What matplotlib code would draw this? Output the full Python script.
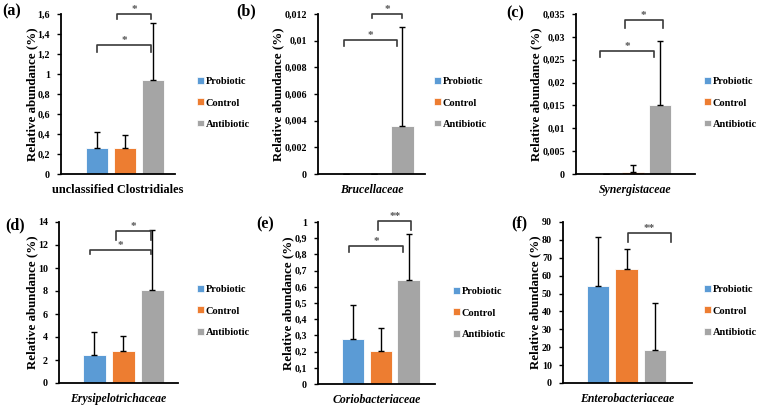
import matplotlib
matplotlib.use("Agg")
import matplotlib.pyplot as plt
from matplotlib.patches import Patch

plt.rcParams['font.family'] = ['Liberation Serif', 'DejaVu Serif']
plt.rcParams['font.weight'] = 'bold'

groups = ["Probiotic", "Control", "Antibiotic"]
colors = ["#5B9BD5", "#ED7D31", "#A5A5A5"]

panel_labels = ["(a)", "(b)", "(c)", "(d)", "(e)", "(f)"]
families = ["unclassified Clostridiales", "Brucellaceae", "Synergistaceae",
            "Erysipelotrichaceae", "Coriobacteriaceae", "Enterobacteriaceae"]
italic = [False, True, True, True, True, True]

means_a = [0.26, 0.265, 0.94]
errs_a = [0.16, 0.13, 0.57]
means_b = [0.0, 0.0, 0.0036]
errs_b = [0.0, 0.0, 0.0074]
means_c = [0.0, 0.0005, 0.015]
errs_c = [0.0, 0.0015, 0.014]
means_d = [2.4, 2.75, 8.1]
errs_d = [2.0, 1.35, 5.2]
means_e = [0.28, 0.205, 0.645]
errs_e = [0.21, 0.14, 0.28]
means_f = [54.0, 64.0, 18.5]
errs_f = [27.5, 11.0, 26.5]

yticks_a = [0, 0.2, 0.4, 0.6, 0.8, 1.0, 1.2, 1.4, 1.6]
ylabels_a = ["0", "0,2", "0,4", "0,6", "0,8", "1", "1,2", "1,4", "1,6"]
yticks_b = [0, 0.002, 0.004, 0.006, 0.008, 0.010, 0.012]
ylabels_b = ["0", "0,002", "0,004", "0,006", "0,008", "0,01", "0,012"]
yticks_c = [0, 0.005, 0.01, 0.015, 0.02, 0.025, 0.03, 0.035]
ylabels_c = ["0", "0,005", "0,01", "0,015", "0,02", "0,025", "0,03", "0,035"]
yticks_d = [0, 2, 4, 6, 8, 10, 12, 14]
ylabels_d = ["0", "2", "4", "6", "8", "10", "12", "14"]
yticks_e = [0, 0.1, 0.2, 0.3, 0.4, 0.5, 0.6, 0.7, 0.8, 0.9, 1.0]
ylabels_e = ["0", "0,1", "0,2", "0,3", "0,4", "0,5", "0,6", "0,7", "0,8", "0,9", "1"]
yticks_f = [0, 10, 20, 30, 40, 50, 60, 70, 80, 90]
ylabels_f = ["0", "10", "20", "30", "40", "50", "60", "70", "80", "90"]

# significance brackets: (x1, x2, y_top, y_leg, label)
sig_a = [(0.0, 1.95, 1.29, 1.22, "*"), (0.7, 1.95, 1.60, 1.555, "*")]
sig_b = [(-0.07, 1.8, 0.01005, 0.0096, "*"), (0.93, 2.0, 0.0120, 0.0117, "*")]
sig_c = [(-0.22, 1.8, 0.0268, 0.0257, "*"), (0.7, 2.1, 0.0337, 0.0320, "*")]
sig_d = [(-0.15, 1.95, 11.56, 11.2, "*"), (0.75, 1.95, 13.2, 12.4, "*")]
sig_e = [(-0.15, 1.8, 0.85, 0.815, "*"), (0.9, 2.1, 1.008, 0.95, "**")]
sig_f = [(1.05, 2.55, 83.8, 78.8, "**")]

panels = [
    (means_a, errs_a, yticks_a, ylabels_a, sig_a),
    (means_b, errs_b, yticks_b, ylabels_b, sig_b),
    (means_c, errs_c, yticks_c, ylabels_c, sig_c),
    (means_d, errs_d, yticks_d, ylabels_d, sig_d),
    (means_e, errs_e, yticks_e, ylabels_e, sig_e),
    (means_f, errs_f, yticks_f, ylabels_f, sig_f),
]

W, H = 760, 407
fig = plt.figure(figsize=(W / 100, H / 100), dpi=100)

# axes pixel boxes (left, right, top, bottom)
boxes = [(61, 175, 14, 174), (318, 425, 14, 174), (576, 695, 14, 174),
         (59, 178, 222, 383), (318, 435, 222, 384), (563, 692, 222, 383)]
xlims = [(-1.3, 2.8), (-1.0, 2.8), (-1.1, 3.3), (-1.23, 2.9), (-1.26, 2.95), (-1.23, 3.3)]
legend_pos = [(197, 103), (434, 103), (704, 103), (197, 311), (453, 313), (704, 311)]
label_pos = [(2, 11), (236, 11), (506, 13), (5, 225), (256, 224), (511, 223)]
ylabel_x = [32, 278, 536, 32, 288, 535]
xlabel_size = [8.8, 8.5, 8.5, 8.5, 8.5, 8.5]

for i, (means, errs, yt, yl, sigs) in enumerate(panels):
    l, r, t, b = boxes[i]
    ax = fig.add_axes([l / W, 1 - b / H, (r - l) / W, (b - t) / H])
    x = [0, 1, 2]
    ax.bar(x, means, width=0.8, color=colors, edgecolor="white", linewidth=0.6, zorder=2)
    ax.errorbar(x, means, yerr=[[0, 0, 0], errs], fmt="none", ecolor="black",
                elinewidth=1.0, capsize=2.5, capthick=1.0, zorder=3)
    ax.set_xlim(*xlims[i])
    ax.set_ylim(yt[0], yt[-1])
    ax.set_yticks(yt)
    ax.set_yticklabels(yl, fontsize=7.2, fontweight="bold")
    ax.set_xticks([])
    for s in ["top", "right"]:
        ax.spines[s].set_visible(False)
    for s in ["left", "bottom"]:
        ax.spines[s].set_linewidth(1.3)
    ax.tick_params(axis="y", direction="out", length=3, width=1.0, pad=5)
    ax.set_ylabel("Relative abundance (%)", fontsize=9.3, fontweight="bold")
    ax.yaxis.label.set_verticalalignment("center")
    ax.yaxis.set_label_coords((ylabel_x[i] - l) / (r - l), 0.5)
    ax.set_xlabel(families[i], fontsize=xlabel_size[i], fontweight="bold",
                  fontstyle="italic" if italic[i] else "normal", labelpad=7)
    for (x1, x2, yt_, yleg, lab) in sigs:
        ax.plot([x1, x1, x2, x2], [yleg, yt_, yt_, yleg], color="#3a3a3a",
                linewidth=1.2, clip_on=False, zorder=4)
        ax.text((x1 + x2) / 2, yt_, lab, ha="center", va="bottom", fontsize=8,
                color="#555555", clip_on=False)
    handles = [Patch(facecolor=c, edgecolor="white", linewidth=0.5) for c in colors]
    lx, ly = legend_pos[i]
    fig.legend(handles, groups, loc="center left", bbox_to_anchor=(lx / W, 1 - ly / H),
               bbox_transform=fig.transFigure, frameon=False,
               handlelength=0.65, handleheight=0.65, handletextpad=0.2,
               labelspacing=1.15, borderpad=0, borderaxespad=0,
               prop={"weight": "bold", "size": 7.5})
    px, py = label_pos[i]
    fig.text(px / W, 1 - py / H, panel_labels[i], fontsize=11.5, fontweight="bold",
             ha="left", va="center")

fig.savefig("out.png", dpi=100)
